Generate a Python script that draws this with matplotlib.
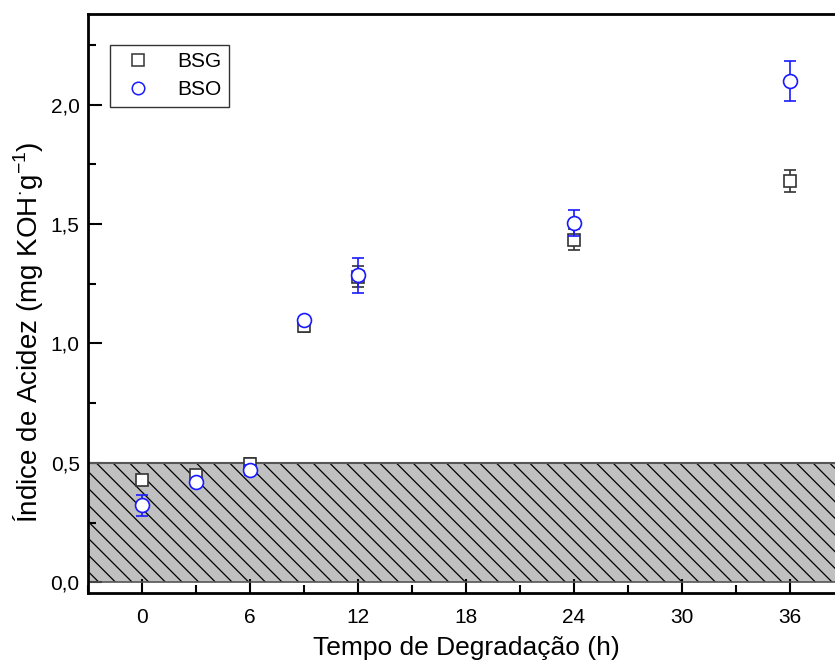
import matplotlib
matplotlib.use("Agg")
import matplotlib.pyplot as plt
from matplotlib.lines import Line2D
from matplotlib.ticker import MultipleLocator, FuncFormatter

plt.rcParams['font.family'] = ['Liberation Sans', 'DejaVu Sans']
plt.rcParams['mathtext.fontset'] = 'custom'
plt.rcParams['mathtext.rm'] = 'Liberation Sans'
plt.rcParams['mathtext.it'] = 'Liberation Sans'
plt.rcParams['hatch.linewidth'] = 0.9

# Dados
tempo = [0, 3, 6, 9, 12, 24, 36]
bsg = [0.43, 0.45, 0.497, 1.075, 1.28, 1.435, 1.68]
bsg_err = [0.0, 0.02, 0.025, 0.025, 0.045, 0.045, 0.045]
bso = [0.322, 0.419, 0.47, 1.097, 1.285, 1.505, 2.1]
bso_err = [0.043, 0.01, 0.02, 0.01, 0.075, 0.055, 0.083]
limite = 0.5

cor_bsg = '#333333'
cor_bso = '#1a1aff'

fig = plt.figure(figsize=(8.35, 6.71), dpi=100)
ax = fig.add_axes([88 / 835, 1 - 593 / 671, 756 / 835, 579 / 671])

# faixa hachurada (limite)
ax.axhspan(0, limite, facecolor='#c0c0c0', edgecolor='black', hatch='\\\\', lw=0, zorder=1)
ax.axhline(limite, color='#555555', lw=1.5, zorder=2)
ax.axhline(0, color='#555555', lw=1.2, zorder=2)

ax.errorbar(tempo, bsg, yerr=bsg_err, fmt='s', ms=8.5, mfc='white', mec=cor_bsg,
            mew=1.2, ecolor=cor_bsg, elinewidth=1.2, capsize=4, capthick=1.2, zorder=3)
ax.errorbar(tempo, bso, yerr=bso_err, fmt='o', ms=10, mfc='white', mec=cor_bso,
            mew=1.2, ecolor=cor_bso, elinewidth=1.2, capsize=4, capthick=1.2, zorder=4)

ax.set_xlim(-3, 39)
ax.set_ylim(-0.045, 2.38)
ax.xaxis.set_major_locator(MultipleLocator(6))
ax.xaxis.set_minor_locator(MultipleLocator(3))
ax.yaxis.set_major_locator(MultipleLocator(0.5))
ax.yaxis.set_minor_locator(MultipleLocator(0.25))
ax.yaxis.set_major_formatter(FuncFormatter(lambda v, p: f"{v:.1f}".replace('.', ',')))

ax.tick_params(which='major', direction='in', length=10, width=1.5, labelsize=15, pad=11)
ax.tick_params(which='minor', direction='in', length=6, width=1.5)
ax.tick_params(axis='y', which='major', pad=6)
for s in ax.spines.values():
    s.set_linewidth(2)

ax.set_xlabel('Tempo de Degradação (h)', fontsize=19, labelpad=6)
ax.set_ylabel('Índice de Acidez (mg KOH$^{\\cdot}$g$^{-1}$)', fontsize=20)
ax.yaxis.set_label_coords(-0.057, 0.45)

handles = [Line2D([], [], ls='none', marker='s', ms=8, mfc='white', mec=cor_bsg, mew=1.1),
           Line2D([], [], ls='none', marker='o', ms=9, mfc='white', mec=cor_bso, mew=1.1)]
leg = ax.legend(handles, ['BSG', 'BSO'], loc='upper left', bbox_to_anchor=(0.029, 0.947),
                borderaxespad=0, fontsize=15, frameon=True, fancybox=False,
                edgecolor='black', handlelength=2.0, handletextpad=0.9,
                borderpad=0.35, labelspacing=0.45)
leg.get_frame().set_linewidth(1)

fig.savefig('out.png', dpi=100)
